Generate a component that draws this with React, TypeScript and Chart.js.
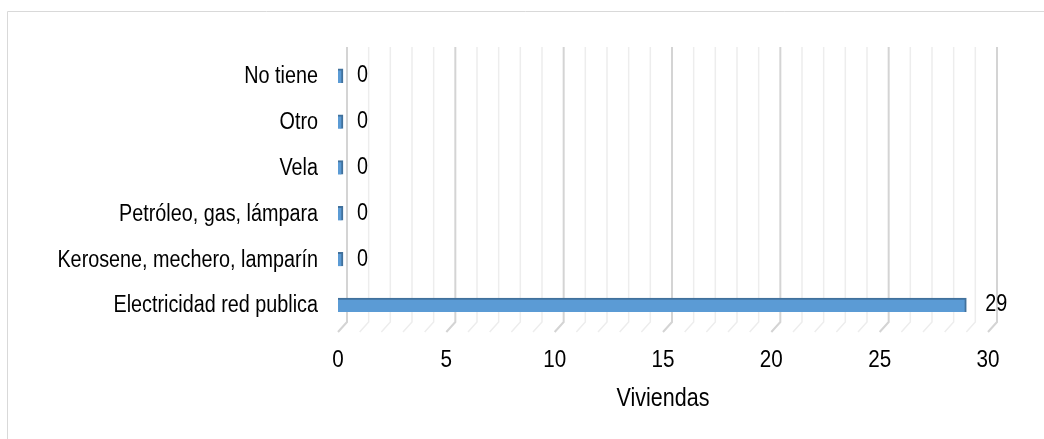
import React, { useEffect, useRef } from "react";
import { Chart, registerables } from "chart.js";

Chart.register(...registerables);

const categories = [
  "No tiene",
  "Otro",
  "Vela",
  "Petróleo, gas, lámpara",
  "Kerosene, mechero, lamparín",
  "Electricidad red publica",
];
const viviendas = [0, 0, 0, 0, 0, 29];
const xTicks = [0, 5, 10, 15, 20, 25, 30];
const axisTitle = "Viviendas";

const FONT = "'Liberation Sans Narrow', 'Arial Narrow', 'Liberation Sans', Arial, sans-serif";
const SQUEEZE = 0.86;

function narrowText(ctx: any, text: string, x: number, y: number, align: string, size: number) {
  ctx.save();
  ctx.font = `${size}px ${FONT}`;
  ctx.translate(x, y);
  ctx.scale(SQUEEZE, 1);
  ctx.textAlign = align;
  ctx.textBaseline = "middle";
  ctx.fillText(text, 0, 0);
  ctx.restore();
}

const framePlugin = {
  id: "frame",
  beforeDraw(chart: any) {
    const ctx = chart.ctx;
    ctx.save();
    ctx.strokeStyle = "#d9d9d9";
    ctx.lineWidth = 1;
    ctx.beginPath();
    ctx.moveTo(7.5, chart.height);
    ctx.lineTo(7.5, 11.5);
    ctx.lineTo(chart.width, 11.5);
    ctx.stroke();
    ctx.restore();
  },
};

const gridPlugin = {
  id: "grid3d",
  beforeDatasetsDraw(chart: any) {
    const ctx = chart.ctx;
    const xs = chart.scales.x;
    const area = chart.chartArea;
    ctx.save();
    for (let v = 0; v <= 30; v++) {
      const xf = xs.getPixelForValue(v);
      const xb = xf + 9;
      const major = v % 5 === 0;
      ctx.strokeStyle = major ? "#d4d4d4" : "#ededed";
      ctx.lineWidth = major ? 2 : 1.5;
      ctx.beginPath();
      ctx.moveTo(xb, area.top - 6);
      ctx.lineTo(xb, area.bottom - 6);
      ctx.lineTo(xf, area.bottom + 4);
      ctx.stroke();
    }
    ctx.restore();
  },
};

const textPlugin = {
  id: "texts",
  afterDatasetsDraw(chart: any) {
    const ctx = chart.ctx;
    const xs = chart.scales.x;
    const ys = chart.scales.y;
    const area = chart.chartArea;
    const meta = chart.getDatasetMeta(0);
    ctx.save();
    ctx.fillStyle = "#000";
    categories.forEach((c, i) => {
      narrowText(ctx, c, area.left - 20, ys.getPixelForTick(i) + 1, "right", 23);
    });
    xs.ticks.forEach((t: any) => {
      narrowText(ctx, String(t.value), xs.getPixelForValue(t.value), area.bottom + 32, "center", 24);
    });
    narrowText(ctx, axisTitle, (area.left + area.right) / 2, area.bottom + 71, "center", 25);
    meta.data.forEach((el: any, i: number) => {
      const v = viviendas[i];
      narrowText(ctx, String(v), xs.getPixelForValue(v) + 19, el.y, "left", 23);
    });
    ctx.restore();
  },
};

export default function App() {
  const ref = useRef<HTMLCanvasElement>(null);
  useEffect(() => {
    document.body.style.margin = "0";
    const chart = new Chart(ref.current!, {
      type: "bar",
      data: {
        labels: categories,
        datasets: [
          {
            data: viviendas,
            backgroundColor: "#5b9bd5",
            borderColor: "#41719c",
            borderWidth: { top: 2, right: 2, left: 0, bottom: 0 },
            borderSkipped: false,
            barThickness: 14,
            minBarLength: 5,
          },
        ],
      },
      options: {
        indexAxis: "y",
        responsive: false,
        animation: false,
        devicePixelRatio: 1,
        layout: { padding: { top: 53, right: 56, left: 0, bottom: 0 } },
        plugins: { legend: { display: false }, tooltip: { enabled: false } },
        scales: {
          x: {
            min: 0,
            max: 30,
            afterBuildTicks(scale: any) {
              scale.ticks = xTicks.map((v) => ({ value: v }));
            },
            afterFit(scale: any) {
              scale.height = 111;
            },
            grid: { display: false, drawTicks: false },
            border: { display: false },
            ticks: { display: false },
            title: { display: false, text: axisTitle },
          },
          y: {
            afterFit(scale: any) {
              scale.width = 338;
            },
            grid: { display: false, drawTicks: false },
            border: { display: false },
            ticks: { display: false },
          },
        },
      },
      plugins: [framePlugin, gridPlugin, textPlugin],
    } as any);
    return () => chart.destroy();
  }, []);
  return (
    <div style={{ width: 1044, height: 439, position: "relative", background: "#fff" }}>
      <canvas ref={ref} width={1044} height={439} />
    </div>
  );
}
